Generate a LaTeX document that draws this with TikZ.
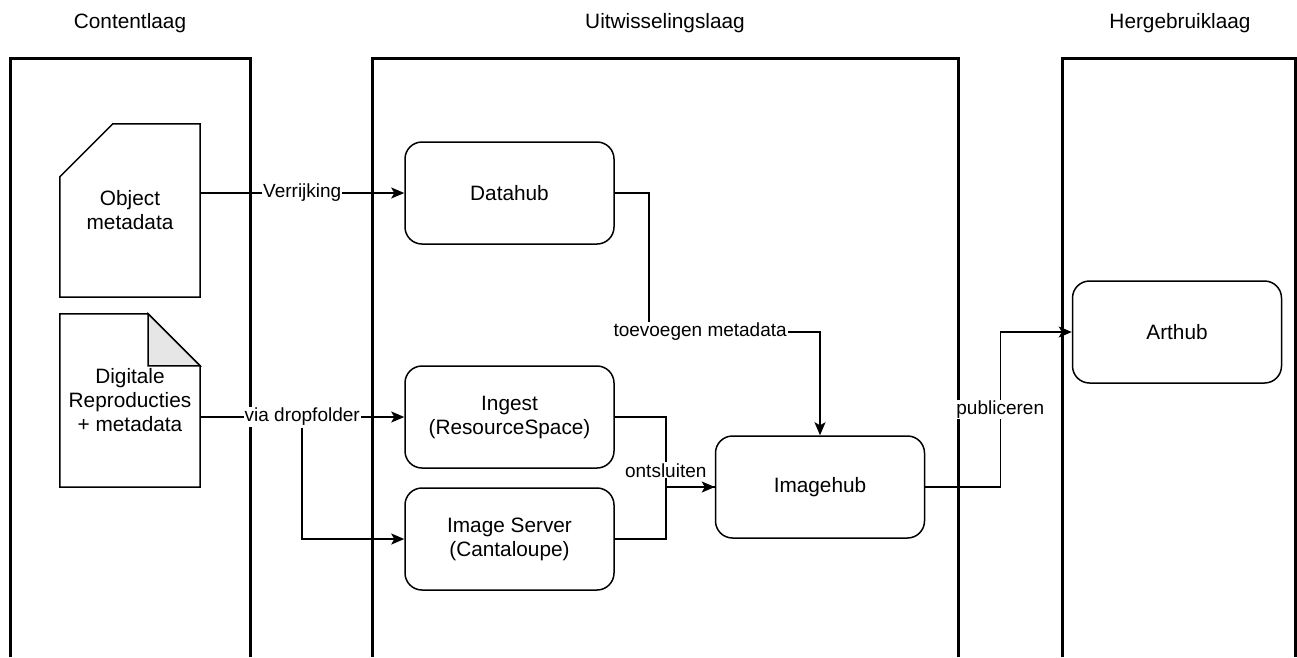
\documentclass[tikz,border=0pt]{standalone}
\usepackage{fontspec}
\setmainfont{Liberation Sans}
\usepackage{tikz}
\usetikzlibrary{arrows.meta}
\definecolor{foldgray}{RGB}{230,230,230}

\begin{document}
\begin{tikzpicture}[x=1pt, y=-1pt,
	lane/.style={line width=3pt},
	title/.style={font=\fontsize{20.8}{24}\selectfont},
	box/.style={draw, line width=1.5pt, rounded corners=17pt, minimum width=209pt, minimum height=102pt, align=center, font=\fontsize{20.8}{24}\selectfont},
	doc/.style={minimum width=140pt, minimum height=173pt, align=center, font=\fontsize{20.8}{24}\selectfont},
	edge/.style={line width=1.5pt},
	link/.style={edge, -{Stealth[length=13pt, width=11pt, inset=3pt]}},
	lbl/.style={fill=white, inner sep=1pt, font=\fontsize{19}{22}\selectfont}]
			\useasboundingbox (0,0) rectangle (1297,657);
			% lagen
			\draw[lane] (10,657) -- (10,58) -- (250,58) -- (250,657);
			\draw[lane] (372,657) -- (372,58) -- (958,58) -- (958,657);
			\draw[lane] (1062,657) -- (1062,58) -- (1295.5,58) -- (1295.5,657);
			\node[title] (content) at (130,23) {Contentlaag};
			\node[title] (uitwissel) at (665,23) {Uitwisselingslaag};
			\node[title] (hergebruik) at (1180,23) {Hergebruiklaag};
			% documenten
			\node[doc] (object) at (130,210.5) {Object\\metadata};
			\draw[edge] ([yshift=-53pt]object.north west) -- ([xshift=53pt]object.north west) -- (object.north east) -- (object.south east) -- (object.south west) -- cycle;
			\node[doc] (repro) at (130,400.5) {Digitale\\Reproducties\\+ metadata};
			\draw[edge, fill=foldgray] ([xshift=-52pt]repro.north east) -- ([yshift=-52pt]repro.north east) -- ([xshift=-52pt, yshift=-52pt]repro.north east) -- cycle;
			\draw[edge] (repro.north west) -- ([xshift=-52pt]repro.north east) -- ([yshift=-52pt]repro.north east) -- (repro.south east) -- (repro.south west) -- cycle;
			% systemen
			\node[box] (datahub) at (509.5,193) {Datahub};
			\node[box] (ingest) at (509.5,417) {Ingest\\(ResourceSpace)};
			\node[box] (server) at (509.5,539) {Image Server\\(Cantaloupe)};
			\node[box] (imagehub) at (820,487) {Imagehub};
			\node[box] (arthub) at (1177,332) {Arthub};
			% verbindingen
			\draw[link] (object.east |- datahub.west) -- node[lbl]{Verrijking} (datahub.west);
			\draw[link] (repro.east |- ingest.west) -- node[lbl] (drop) {via dropfolder} (ingest.west);
			\draw[link] (drop.south) |- (server.west);
			\draw[link] (datahub.east) -- ++(34,0) -- ++(0,139) -| node[lbl, pos=0.15]{toevoegen metadata} (imagehub.north);
			\draw[edge] (server.east) -- ++(51,0) |- (imagehub.west);
			\draw[link] (ingest.east) -- ++(51,0) |- node[lbl, pos=0.38]{ontsluiten} (imagehub.west);
			\draw[link] (imagehub.east) -- ++(75,0) |- node[lbl, pos=0.25]{publiceren} (arthub.west);
\end{tikzpicture}
\end{document}
